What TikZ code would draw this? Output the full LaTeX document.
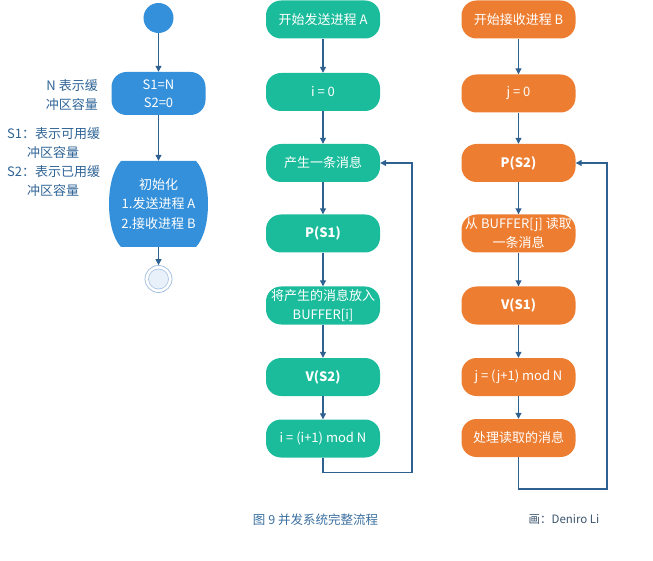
\documentclass[tikz,border=0pt]{standalone}
\usepackage{fontspec}
\setmainfont{Noto Sans CJK SC}
\usetikzlibrary{arrows.meta}
\definecolor{teal1}{HTML}{1BBC9B}
\definecolor{orange1}{HTML}{ED7D31}
\definecolor{blue1}{HTML}{3490DA}
\definecolor{arrowc}{HTML}{2E6190}
\definecolor{labelc}{HTML}{2F6496}
\definecolor{capc}{HTML}{3A6FA0}
\definecolor{authc}{HTML}{3C556E}
\definecolor{ringc}{HTML}{A3C0E0}
\definecolor{ringfill}{HTML}{E8F0FA}
\tikzset{
  flowbox/.style={rounded corners=15pt, minimum width=114pt, minimum height=38pt, text=white, align=center, inner sep=1pt, font=\fontsize{13}{19}\selectfont},
  tealbox/.style={flowbox, fill=teal1},
  orangebox/.style={flowbox, fill=orange1},
  arr/.style={draw=arrowc, line width=1.1pt, -{Triangle[length=6pt,width=6pt]}},
  loopline/.style={draw=arrowc, line width=1.1pt, -{Triangle[length=6pt,width=6pt]}},
  sidelabel/.style={text=labelc, font=\fontsize{13}{19}\selectfont, inner sep=0pt},
}
\begin{document}
\begin{tikzpicture}[x=1pt,y=-1pt]
\useasboundingbox (0,0) rectangle (653,561);
% left column
\node[circle, fill=blue1, minimum size=30pt, inner sep=0pt] (start) at (158.5,18) {};
\node[rounded corners=15pt, fill=blue1, minimum width=94pt, minimum height=43pt, text=white, align=center, inner sep=1pt, font=\fontsize{13}{18}\selectfont] (sinit) at (158.5,93.5) {S1=N\\S2=0};
\fill[blue1] (121,161) -- (196,161)
  .. controls (212,178) and (212,230) .. (196,247)
  -- (121,247)
  .. controls (105,230) and (105,178) .. (121,161) -- cycle;
\node[minimum width=97pt, minimum height=86pt, text=white, align=center, inner sep=0pt, font=\fontsize{13}{19.5}\selectfont] (init) at (158.5,204) {初始化\\1.发送进程 A\\2.接收进程 B};
\node[circle, draw=ringc, line width=0.8pt, fill=white, minimum size=27pt, inner sep=0pt] (end) at (158.5,279) {};
\node[circle, draw=ringc, line width=0.6pt, fill=ringfill, minimum size=20pt, inner sep=0pt] (endin) at (158.5,279) {};
\draw[arr] (start) -- (sinit);
\draw[arr] (sinit) -- (init.north);
\draw[arr] (init.south) -- (end);
% side labels
\node[sidelabel, align=right, anchor=east] (lab1) at (98,95) {N 表示缓\\冲区容量};
\node[sidelabel, align=left, anchor=north west] (lab2) at (7,127) {S1：表示可用缓\\\hspace*{20pt}冲区容量\\S2：表示已用缓\\\hspace*{20pt}冲区容量};
% middle column
\node[tealbox] (a1) at (323,19.5) {开始发送进程 A};
\node[tealbox] (a2) at (323,92) {i = 0};
\node[tealbox] (a3) at (323,163) {产生一条消息};
\node[tealbox, font=\fontsize{13}{19}\selectfont\bfseries] (a4) at (323,233.5) {P(S1)};
\node[tealbox] (a5) at (323,305.5) {将产生的消息放入\\BUFFER[i]};
\node[tealbox, font=\fontsize{13}{19}\selectfont\bfseries] (a6) at (323,377) {V(S2)};
\node[tealbox] (a7) at (323,438.5) {i = (i+1) mod N};
\draw[arr] (a1) -- (a2);
\draw[arr] (a2) -- (a3);
\draw[arr] (a3) -- (a4);
\draw[arr] (a4) -- (a5);
\draw[arr] (a5) -- (a6);
\draw[arr] (a6) -- (a7);
\coordinate (la) at (412,472.5);
\draw[loopline] (a7.south) |- (la) |- (a3.east);
% right column
\node[orangebox] (b1) at (518.5,19.5) {开始接收进程 B};
\node[orangebox] (b2) at (518.5,93.5) {j = 0};
\node[orangebox, font=\fontsize{13}{19}\selectfont\bfseries] (b3) at (518.5,163) {P(S2)};
\node[orangebox] (b4) at (518.5,233.5) {从 BUFFER[j] 读取\\一条消息};
\node[orangebox, font=\fontsize{13}{19}\selectfont\bfseries] (b5) at (518.5,305.5) {V(S1)};
\node[orangebox] (b6) at (518.5,377) {j = (j+1) mod N};
\node[orangebox] (b7) at (518.5,438) {处理读取的消息};
\draw[arr] (b1) -- (b2);
\draw[arr] (b2) -- (b3);
\draw[arr] (b3) -- (b4);
\draw[arr] (b4) -- (b5);
\draw[arr] (b5) -- (b6);
\draw[arr] (b6) -- (b7);
\coordinate (lb) at (607,489);
\draw[loopline] (b7.south) |- (lb) |- (b3.east);
% captions
\node[text=capc, font=\fontsize{12.5}{15}\selectfont, inner sep=0pt] (cap) at (315.5,520) {图 9 并发系统完整流程};
\node[text=authc, font=\fontsize{11.5}{14}\selectfont, inner sep=0pt] (auth) at (564,519) {画：Deniro Li};
\end{tikzpicture}
\end{document}
